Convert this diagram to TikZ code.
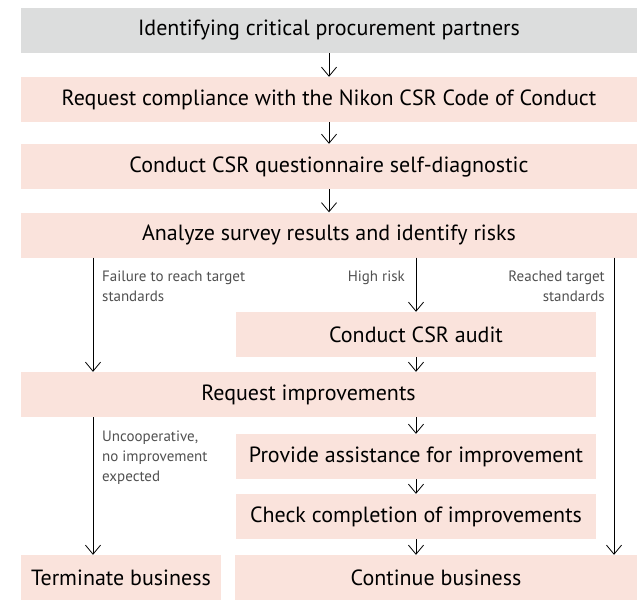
\documentclass[tikz,border=0pt]{standalone}
\usepackage{fontspec}
\setmainfont{PT Sans}
\usetikzlibrary{arrows.meta}
\definecolor{boxgray}{RGB}{220,221,221}
\definecolor{boxpink}{RGB}{250,227,220}
\definecolor{lblgray}{RGB}{80,80,80}
\begin{document}
\begin{tikzpicture}[x=1pt,y=-1pt,
	stepbox/.style={fill=boxpink, minimum height=45pt, inner sep=0pt, font=\fontsize{22}{26}\selectfont},
	lbl/.style={inner sep=0pt, text=lblgray, font=\fontsize{15}{20}\selectfont},
	arr/.style={-{Straight Barb[length=9pt,width=15pt]}, line width=0.8pt}]
			\useasboundingbox (0,0) rectangle (637,600);
			\node[stepbox, fill=boxgray, minimum width=616pt] (ident) at (329,30.5) {Identifying critical procurement partners};
			\node[stepbox, minimum width=616pt] (comply) at (329,99.5) {Request compliance with the Nikon CSR Code of Conduct};
			\node[stepbox, minimum width=616pt] (survey) at (329,166.5) {Conduct CSR questionnaire self-diagnostic};
			\node[stepbox, minimum width=616pt] (analyze) at (329,235) {Analyze survey results and identify risks};
			\node[stepbox, minimum width=360pt] (audit) at (416,334.5) {Conduct CSR audit};
			\node[stepbox, minimum width=575pt] (request) at (308.5,394.5) {Request improvements};
			\node[stepbox, minimum width=360pt] (assist) at (416,456.5) {Provide assistance for improvement};
			\node[stepbox, minimum width=360pt] (check) at (416,516.5) {Check completion of improvements};
			\node[stepbox, minimum width=200pt] (terminate) at (121,577.5) {Terminate business};
			\node[stepbox, minimum width=402pt] (continue) at (436,577.5) {Continue business};
			\coordinate (lcol) at (93,0);
			\coordinate (rcol) at (614,0);
			\draw[arr] (ident) -- (comply);
			\draw[arr] (comply) -- (survey);
			\draw[arr] (survey) -- (analyze);
			\draw[arr] (analyze.south -| lcol) -- (request.north -| lcol);
			\draw[arr] (analyze.south -| audit) -- (audit);
			\draw[arr] (analyze.south -| rcol) -- (continue.north -| rcol);
			\draw[arr] (audit) -- (request.north -| audit);
			\draw[arr] (request.south -| lcol) -- (terminate.north -| lcol);
			\draw[arr] (request.south -| assist) -- (assist);
			\draw[arr] (assist) -- (check);
			\draw[arr] (check) -- (check |- continue.north);
			\node[lbl, anchor=north west, align=left] (fail) at (102,271) {Failure to reach target\\standards};
			\node[lbl, anchor=north east] (high) at (405,271) {High risk};
			\node[lbl, anchor=north east, align=right] (reached) at (605,271) {Reached target\\standards};
			\node[lbl, anchor=north west, align=left] (uncoop) at (102,431) {Uncooperative,\\no improvement\\expected};
			\end{tikzpicture}
\end{document}
